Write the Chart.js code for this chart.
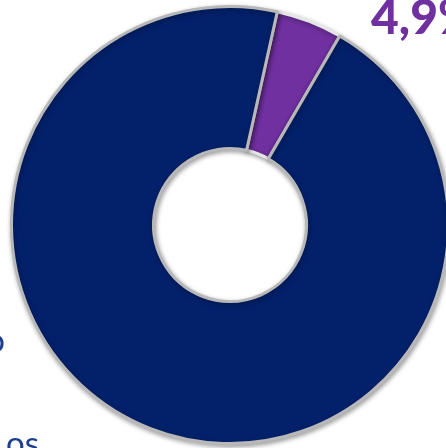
<!DOCTYPE html>
<html>
<head>
<meta charset="utf-8">
<script src="https://cdn.jsdelivr.net/npm/chart.js@4.4.0/dist/chart.umd.min.js"></script>
<style>
html,body{margin:0;padding:0;background:#fff;overflow:hidden;}
#wrap{position:relative;width:446px;height:448px;overflow:hidden;}
canvas{position:absolute;left:0;top:0;}
</style>
</head>
<body>
<div id="wrap"><canvas id="c" width="460" height="448"></canvas></div>
<script>
const categories = ['4,9%', '95,1%'];
const values = [4.9, 95.1];
const sliceColors = ['#7030a0', '#03206a'];
const sliceBorders = ['#e6e6e6', '#b8b8b8'];
const valueLabel = '4,9%';
const leftLabels = ['o', 'os'];

const textPlugin = {
  id: 'texts',
  afterDraw(chart) {
    const ctx = chart.ctx;
    ctx.save();
    ctx.shadowColor = 'transparent';
    ctx.fillStyle = '#7030a0';
    ctx.font = '900 48px Lato, "Open Sans", sans-serif';
    ctx.textAlign = 'left';
    ctx.textBaseline = 'alphabetic';
    ctx.fillText(valueLabel, 371, 34);
    ctx.fillStyle = '#1f3d8f';
    ctx.font = '33px Lato, "Open Sans", sans-serif';
    ctx.textAlign = 'right';
    ctx.fillText(leftLabels[0], 5, 352);
    ctx.fillText(leftLabels[1], 39, 455);
    ctx.restore();
  }
};

const shadowPlugin = {
  id: 'shadow',
  beforeDatasetsDraw(chart) {
    const ctx = chart.ctx;
    ctx.save();
    ctx.shadowColor = 'rgba(0,0,0,0.35)';
    ctx.shadowBlur = 5;
    ctx.shadowOffsetX = 1;
    ctx.shadowOffsetY = 2;
  },
  afterDatasetsDraw(chart) {
    chart.ctx.restore();
  }
};

new Chart(document.getElementById('c'), {
  type: 'doughnut',
  data: {
    labels: categories,
    datasets: [{
      data: values,
      backgroundColor: sliceColors,
      borderColor: sliceBorders,
      borderWidth: 3,
      hoverOffset: 0
    }]
  },
  options: {
    responsive: false,
    animation: false,
    cutout: '35%',
    rotation: 12.5,
    layout: { padding: { left: 10, top: 5, right: 10, bottom: 3 } },
    plugins: { legend: { display: false }, tooltip: { enabled: false } }
  },
  plugins: [shadowPlugin, textPlugin]
});
</script>
</body>
</html>
